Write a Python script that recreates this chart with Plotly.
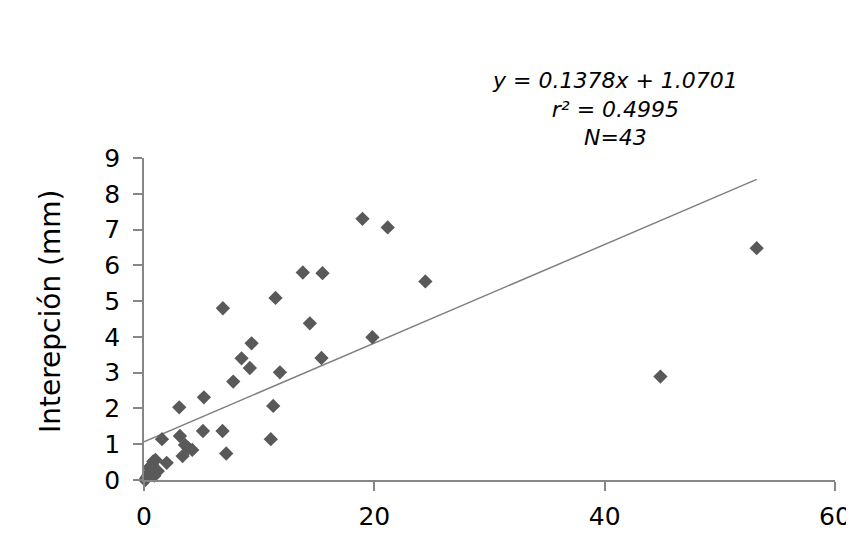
import plotly.graph_objects as go

# Data
x_vals = [18.97, 21.16, 24.43, 13.79, 15.5, 11.42, 6.85, 14.4, 19.83, 9.34,
          8.47, 9.19, 15.41, 11.8, 7.75, 5.2, 3.06, 11.22, 1.56, 3.12,
          5.12, 6.82, 11.01, 7.14, 3.35, 3.85, 4.19, 3.56, 1.97, 44.84,
          53.2, 0.1, 0.2, 0.3, 0.4, 0.5, 0.6, 0.7, 0.8, 1.0, 1.2, 0.9, 0.5]
y_vals = [7.30, 7.06, 5.55, 5.80, 5.78, 5.09, 4.80, 4.38, 3.99, 3.82,
          3.40, 3.13, 3.41, 3.01, 2.75, 2.31, 2.03, 2.07, 1.14, 1.23,
          1.37, 1.37, 1.14, 0.74, 0.67, 0.89, 0.84, 0.98, 0.48, 2.89,
          6.48, 0.0, 0.05, 0.1, 0.15, 0.22, 0.3, 0.42, 0.52, 0.56, 0.25, 0.12, 0.36]

slope = 0.1378
intercept = 1.0701
eq_text = "y = 0.1378x + 1.0701<br>r² = 0.4995<br>N=43"
x_ticks = [0, 20, 40, 60]
y_ticks = [0, 1, 2, 3, 4, 5, 6, 7, 8, 9]
y_title = "Interepción (mm)"

line_x = [0, max(x_vals)]
line_y = [intercept + slope * v for v in line_x]

FONT = "DejaVu Sans, Verdana, sans-serif"

# page body has an 8px default margin; compensate
W, H = 846, 539
ML, MR, MT, MB = 136, 19, 150, 67
PW, PH = W - ML - MR, H - MT - MB


def px_x(wx):
    return (wx - 8 - ML) / PW


def px_y(wy):
    return (H - MB - (wy - 8)) / PH


fig = go.Figure()
fig.add_trace(go.Scatter(
    x=line_x, y=line_y, mode="lines",
    line=dict(color="#808080", width=1.5),
    showlegend=False, hoverinfo="skip"))
fig.add_trace(go.Scatter(
    x=x_vals, y=y_vals, mode="markers",
    marker=dict(symbol="diamond", size=11, color="#595959"),
    cliponaxis=False, showlegend=False))

fig.update_layout(
    width=W, height=H,
    margin=dict(l=ML, r=MR, t=MT, b=MB, autoexpand=False),
    paper_bgcolor="white", plot_bgcolor="white",
    font=dict(family=FONT, color="black"),
    xaxis=dict(range=[0, 60], tickvals=x_ticks, showgrid=False, zeroline=False,
               showline=True, linecolor="#868686", linewidth=1.5,
               ticks="outside", ticklen=9, tickcolor="#868686", tickwidth=1.5,
               tickfont=dict(size=25, family=FONT), ticklabelstandoff=4),
    yaxis=dict(range=[0, 9], tickvals=y_ticks, showgrid=False, zeroline=False,
               showline=True, linecolor="#868686", linewidth=1.5,
               ticks="outside", ticklen=9, tickcolor="#868686", tickwidth=1.5,
               tickfont=dict(size=25, family=FONT), ticklabelstandoff=8),
    annotations=[
        dict(x=px_x(615), y=px_y(109), xref="paper", yref="paper",
             text="<i>" + eq_text + "</i>", xanchor="center", yanchor="middle",
             showarrow=False, align="center", font=dict(size=22, family=FONT)),
        dict(x=px_x(50), y=px_y(312), xref="paper", yref="paper",
             text=y_title, textangle=-90, xanchor="center", yanchor="middle",
             showarrow=False, font=dict(size=28, family=FONT)),
    ],
)

fig.write_html("out.html")
